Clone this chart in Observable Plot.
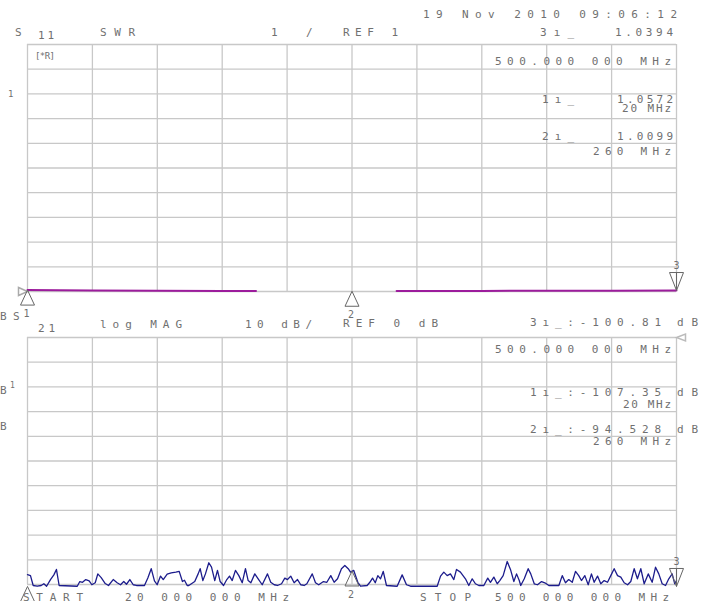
<!DOCTYPE html>
<html><head><meta charset="utf-8">
<script src="https://cdn.jsdelivr.net/npm/d3@7"></script>
<script src="https://cdn.jsdelivr.net/npm/@observablehq/plot@0.6"></script>
<style>
body{margin:0;background:#fff}
#wrap{position:relative;width:711px;height:601px;overflow:hidden;background:#fff}
#wrap svg{position:absolute;left:0}
</style>
</head><body><div id="wrap"></div>
<script>
// ---- data ----
const startMHz = 20, stopMHz = 500;
const xGrid = d3.range(20, 501, 48);            // 10 divisions
const swrGrid = d3.range(1, 11.01, 1);          // SWR 1/div, REF 1
const dbGrid = d3.range(-100, 0.01, 10);        // 10 dB/div, REF 0 dB

const swrFreq = [20, 68, 116, 164, 189, 260, 293, 356, 404, 452, 500];
const swrVal  = [1.057, 1.045, 1.03, 1.02, 1.02, null, 1.02, 1.025, 1.03, 1.035, 1.039];

const s21Freq = [20,22.2,24.2,27.2,30.1,32.1,34.1,37.0,39.5,41.4,43.4,56.8,58.7,60.7,63.1,65.6,67.6,70.1,72.0,74.5,77.5,79.9,83.4,86.3,88.8,91.2,93.2,95.7,98.2,100.6,106.5,109.0,111.5,113.9,115.9,118.4,120.4,123.3,126.3,129.7,132.2,134.6,136.1,138.1,139.3,143.7,146.2,147.7,149.7,151.6,154.1,156.1,158.5,160.5,162.5,165.0,167.4,169.4,171.4,173.8,176.3,178.8,181.2,183.2,185.2,188.1,190.6,193.6,197.5,199.9,202.5,204.9,207.9,210.3,212.3,214.7,217.2,219.7,222.1,224.6,226.6,230.6,233.0,235.4,238.9,241.4,244.3,246.8,249.3,252.2,254.7,257.2,258.9,261.3,264.3,266.3,271.2,273.2,275.2,277.2,279.1,281.1,283.1,285.5,293.4,297.1,300.3,303.3,323.0,325.5,327.9,330.4,332.8,335.3,337.3,340.2,343.9,346.4,348.9,351.3,353.8,357.5,360.4,362.4,364.9,367.4,369.3,371.8,374.8,377.2,379.7,381.7,383.7,384.8,387.4,390.3,392.2,394.8,397.2,400.2,402.6,405.6,413.0,415.5,417.9,420.3,422.9,425.3,427.7,429.7,432.2,434.7,437.1,439.1,441.6,444.0,446.5,449.0,451.4,453.9,456.4,458.8,461.3,463.8,466.2,468.7,471.1,473.6,476.1,479.1,482.0,484.5,486.9,489.4,491.9,494.3,496.8,498.7,500];
const s21dB = [-96.0,-96.4,-100.4,-100.7,-100.4,-99.7,-100.7,-98.0,-96.1,-93.9,-100.4,-100.7,-98.8,-99.1,-98.0,-98.5,-100.1,-99.3,-95.7,-97.2,-99.6,-100.4,-98.0,-99.3,-100.1,-98.8,-99.9,-98.0,-100.1,-100.4,-100.4,-97.4,-93.6,-98.5,-100.1,-96.6,-98.0,-95.8,-95.3,-95.0,-94.7,-98.8,-98.3,-100.4,-100.4,-98.8,-95.7,-93.6,-98.4,-95.7,-91.2,-93.0,-98.4,-94.3,-98.8,-100.4,-98.0,-96.6,-98.4,-94.3,-96.4,-99.3,-93.6,-98.4,-99.3,-95.7,-97.7,-100.1,-95.7,-99.1,-100.1,-100.4,-99.7,-97.4,-98.0,-96.6,-99.3,-98.0,-100.1,-100.4,-99.7,-95.7,-99.3,-100.1,-98.8,-99.1,-96.4,-99.1,-97.7,-93.6,-92.3,-93.6,-95.0,-94.3,-99.1,-100.7,-100.4,-99.1,-97.4,-99.3,-96.4,-97.7,-94.7,-100.4,-100.7,-96.1,-100.1,-100.7,-100.7,-96.6,-95.0,-96.4,-95.7,-98.0,-93.9,-95.0,-97.7,-100.4,-97.7,-99.7,-100.4,-100.4,-97.4,-99.1,-97.0,-99.7,-98.4,-96.4,-90.7,-93.9,-98.8,-95.7,-98.4,-100.4,-97.7,-93.6,-95.7,-99.7,-100.1,-98.8,-99.3,-100.4,-100.4,-96.4,-99.3,-98.0,-99.1,-94.7,-96.4,-98.4,-96.4,-100.1,-95.7,-99.1,-96.6,-99.7,-98.4,-99.1,-96.4,-93.6,-96.4,-97.0,-99.3,-100.1,-98.8,-93.6,-97.7,-93.6,-99.7,-95.7,-99.1,-93.0,-95.7,-99.7,-100.4,-97.7,-95.7,-99.7,-98.4];

const markerNames = ["1", "2", "3"];
const markerFreq  = [20, 260, 500];
const markerSWR   = [1.0572, 1.0099, 1.0394];
const markerS21   = [-107.35, -94.528, -100.81];
const activeMarker = "3";
const markerFreqText = ["20 MHz", "260 MHz", "500.000 000 MHz"];
const dateText = "19 Nov 2010   09:06:12";
const startText = "20 000 000 MHz", stopText = "500 000 000 MHz";

// ---- styles ----
const GRID = "#c8c8c8", TXT = "#707070", FONT = "DejaVu Sans Mono, Liberation Mono, monospace";
const upTri = {draw(c){c.moveTo(0,0);c.lineTo(7,15);c.lineTo(-7,15);c.closePath();}};
const downTri = {draw(c){c.moveTo(0,0);c.lineTo(7,-18);c.lineTo(-7,-18);c.closePath();c.moveTo(0,-18);c.lineTo(0,0);}};
const rightTri = {draw(c){c.moveTo(0,0);c.lineTo(-9,-4);c.lineTo(-9,4);c.closePath();}};
const leftTri = {draw(c){c.moveTo(0,0);c.lineTo(9,-3.5);c.lineTo(9,3.5);c.closePath();}};

const swrData = swrFreq.map((f, i) => ({f, v: swrVal[i]}));
const s21Data = s21Freq.map((f, i) => ({f, v: s21dB[i]}));
const mk = markerNames.map((n, i) => ({n, f: markerFreq[i], swr: markerSWR[i], s21: Math.max(markerS21[i], -100.8)}));
const passive = mk.filter(d => d.n !== activeMarker), active = mk.filter(d => d.n === activeMarker);

function markerMarks(yKey) {
  return [
    Plot.dot(passive, {x: "f", y: yKey, symbol: upTri, stroke: "#666", fill: "none", strokeWidth: 1}),
    Plot.dot(active, {x: "f", y: yKey, symbol: downTri, stroke: "#666", fill: "none", strokeWidth: 1}),
    Plot.text(passive, {x: "f", y: yKey, text: "n", dy: 24, dx: -1, fill: TXT, fontSize: 10, fontFamily: FONT}),
    Plot.text(active, {x: "f", y: yKey, text: "n", dy: -25, fill: TXT, fontSize: 10, fontFamily: FONT})
  ];
}

const wrap = document.getElementById("wrap");

const topPlot = Plot.plot({
  width: 711, height: 320,
  marginLeft: 27, marginRight: 35, marginTop: 44, marginBottom: 29,
  style: {background: "transparent", overflow: "visible"},
  x: {domain: [startMHz, stopMHz], axis: null},
  y: {domain: [1, 11], axis: null},
  marks: [
    Plot.ruleX(xGrid, {stroke: GRID, strokeWidth: 1.3}),
    Plot.ruleY(swrGrid, {stroke: GRID, strokeWidth: 1.3}),
    Plot.line(swrData, {x: "f", y: "v", stroke: "#9c1c9c", strokeWidth: 2}),
    Plot.dot([{f: startMHz, v: 1}], {x: "f", y: "v", symbol: rightTri, stroke: "#aaa", fill: "none"}),
    ...markerMarks("swr")
  ]
});
topPlot.style.top = "0px";
wrap.appendChild(topPlot);

const botPlot = Plot.plot({
  width: 711, height: 281,
  marginLeft: 27, marginRight: 35, marginTop: 17, marginBottom: 17,
  style: {background: "transparent", overflow: "visible"},
  x: {domain: [startMHz, stopMHz], axis: null},
  y: {domain: [-100, 0], axis: null},
  marks: [
    Plot.ruleX(xGrid, {stroke: GRID, strokeWidth: 1.3}),
    Plot.ruleY(dbGrid, {stroke: GRID, strokeWidth: 1.3}),
    Plot.line(s21Data, {x: "f", y: "v", stroke: "#1c1c8c", strokeWidth: 1.3}),
    Plot.dot([{f: stopMHz, v: 0}], {x: "f", y: "v", symbol: leftTri, stroke: "#bbb", fill: "none"}),
    ...markerMarks("s21")
  ]
});
botPlot.style.top = "320px";
wrap.appendChild(botPlot);

// ---- annotation text overlay ----
const swrTxt = markerSWR.map(v => v.toPrecision(5));
const s21Txt = markerS21.map(v => v.toPrecision(5));
const ann = [
  [dateText, 423, 17.5, 254],
  ["S", 15, 36], ["11", 38, 39, 16], ["SWR", 100, 36, 35], ["1", 271, 36], ["/", 306, 36],
  ["REF 1", 343, 36, 55], ["3ı_", 540, 36, 34], [swrTxt[2], 615, 36, 58],
  ["[*R]", 35, 59, 20, 9],
  [markerFreqText[2], 495, 65, 176],
  ["1ı_", 542, 103, 32], [swrTxt[0], 617, 103, 56], [markerFreqText[0], 622, 111.5, 49],
  ["2ı_", 542, 139.5, 32], [swrTxt[1], 617, 139.5, 56], [markerFreqText[1], 593, 155, 78],
  ["1", 8, 97, null, 9],
  ["B", 0, 320], ["S", 13, 320], ["21", 38, 332, 17], ["log MAG", 100, 327.5, 82],
  ["10 dB/", 245, 327.5, 67], ["REF 0 dB", 343, 326.5, 95],
  ["3ı_:" + s21Txt[2], 530, 326, 131], ["dB", 677, 326, 21],
  [markerFreqText[2], 495, 352.5, 176],
  ["1ı_:" + s21Txt[0], 530, 396, 131], ["dB", 677, 396, 21], [markerFreqText[0], 623, 407.5, 48],
  ["2ı_:" + s21Txt[1], 530, 433, 131], ["dB", 677, 433, 21], [markerFreqText[1], 593, 445, 78],
  ["B", 0, 394], ["1", 10, 388, null, 8], ["B", 0, 430],
  ["START", 23, 600.5, 60], [startText, 125, 600.5, 164],
  ["STOP", 420, 600.5, 51], [stopText, 495, 600.5, 174]
];
const ov = d3.create("svg").attr("width", 711).attr("height", 601)
  .style("top", "0px").style("pointer-events", "none");
ov.selectAll("text").data(ann).join("text")
  .attr("x", d => d[1]).attr("y", d => d[2])
  .attr("font-family", FONT).attr("font-size", d => d[4] || 11).attr("fill", TXT)
  .each(function(d){ if (d[3]) d3.select(this).attr("textLength", d[3]).attr("lengthAdjust", "spacing"); })
  .text(d => d[0]);
wrap.appendChild(ov.node());
</script></body></html>
